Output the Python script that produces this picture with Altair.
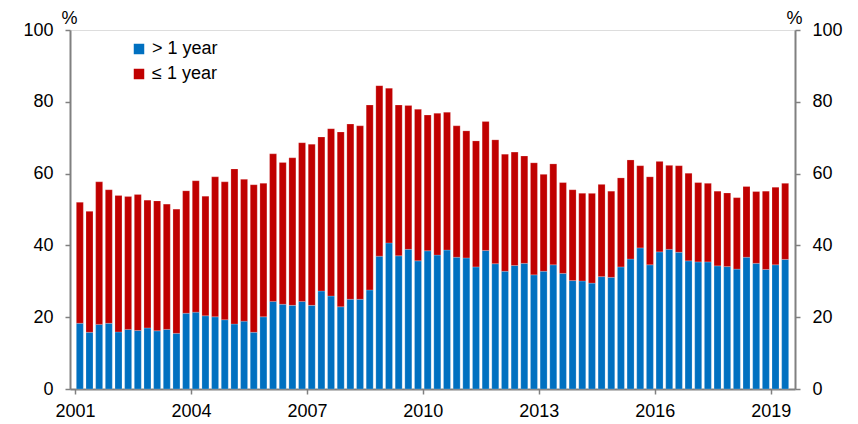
import altair as alt
import pandas as pd

# quarterly data, 2001Q1 .. 2019Q2
start_year = 2001
over_1y = [18.3, 15.8, 18.0, 18.3, 15.9, 16.6, 16.3, 17.0, 16.2, 16.6, 15.5, 21.1,
           21.4, 20.4, 20.1, 19.3, 18.1, 18.9, 15.8, 20.1, 24.4, 23.6, 23.3, 24.4,
           23.3, 27.3, 25.9, 22.9, 25.0, 25.0, 27.6, 37.0, 40.7, 37.1, 38.9, 35.7,
           38.5, 37.3, 38.7, 36.7, 36.5, 34.0, 38.6, 34.9, 32.8, 34.4, 35.0, 31.8,
           32.8, 34.6, 32.2, 30.2, 30.1, 29.5, 31.3, 31.1, 34.0, 36.2, 39.3, 34.6,
           38.2, 38.9, 38.1, 35.7, 35.4, 35.4, 34.3, 34.1, 33.4, 36.7, 35.0, 33.3,
           34.6, 36.1]
total = [52.0, 49.5, 57.7, 55.5, 53.9, 53.6, 54.2, 52.6, 52.4, 51.5, 50.1, 55.2,
         58.0, 53.7, 59.1, 57.7, 61.3, 58.4, 56.9, 57.3, 65.5, 63.1, 64.4, 68.6,
         68.2, 70.2, 72.5, 71.6, 73.8, 73.3, 79.1, 84.5, 83.8, 79.1, 79.0, 77.9,
         76.3, 76.8, 77.1, 73.3, 71.9, 69.1, 74.5, 69.4, 65.4, 66.0, 64.9, 63.0,
         59.8, 62.7, 57.5, 55.5, 54.5, 54.5, 57.0, 55.1, 58.8, 63.8, 62.2, 59.1,
         63.4, 62.3, 62.2, 60.1, 57.5, 57.3, 55.1, 54.6, 53.3, 56.4, 55.0, 55.1,
         56.2, 57.3]
series_names = ["> 1 year", "≤ 1 year"]
series_colors = ["#0070C0", "#C00000"]
tick_years = [2001, 2004, 2007, 2010, 2013, 2016, 2019]
y_ticks = [0, 20, 40, 60, 80, 100]

rows = []
for i, (b, t) in enumerate(zip(over_1y, total)):
    tpos = start_year + (i + 0.5) / 4
    rows.append({"t": tpos, "series": series_names[0], "lo": 0, "hi": b})
    rows.append({"t": tpos, "series": series_names[1], "lo": b, "hi": t})
df = pd.DataFrame(rows)

FONT = "Liberation Sans"
GREY = "#808080"
FS = 18

xenc = alt.X("t:Q",
             scale=alt.Scale(domain=[2001, 2019.5], nice=False, zero=False),
             axis=alt.Axis(values=tick_years, format="d", title=None, grid=False,
                           labelFontSize=FS, labelColor="black", labelPadding=8,
                           tickSize=5, tickColor=GREY, tickWidth=1.5,
                           domainColor=GREY, domainWidth=2, labelFlush=False))
yscale = alt.Scale(domain=[0, 100], nice=False)


def yaxis(orient):
    return alt.Axis(orient=orient, values=y_ticks, title="%", titleAngle=0,
                    titleAlign="center", titleBaseline="alphabetic",
                    titleX=-1, titleY=-7, titleFontSize=FS, titleFontWeight="normal",
                    titleColor="black", grid=False, labelFontSize=FS,
                    labelColor="black", labelPadding=12, tickSize=5,
                    tickColor=GREY, tickWidth=1.5, domainColor=GREY, domainWidth=2)


bars = alt.Chart(df).mark_bar(size=7, stroke="white", strokeWidth=0.4, strokeOpacity=0.5).encode(
    x=xenc,
    y=alt.Y("hi:Q", scale=yscale, axis=yaxis("left")),
    y2="lo:Q",
    color=alt.Color("series:N",
                    scale=alt.Scale(domain=series_names, range=series_colors),
                    legend=alt.Legend(orient="none", legendX=60, legendY=10, title=None,
                                      symbolType="square", symbolSize=110,
                                      symbolStrokeWidth=0, labelFontSize=FS,
                                      labelColor="black", labelOffset=4,
                                      rowPadding=7, padding=0)),
)

right = alt.Chart(df).mark_bar(size=7, opacity=0).encode(
    x=xenc,
    y=alt.Y("hi:Q", scale=yscale, axis=yaxis("right")),
    y2="lo:Q",
)

chart = alt.layer(bars, right).resolve_axis(y="independent").properties(
    width=725, height=359,
    autosize=alt.AutoSizeParams(type="none"),
    padding={"left": 62, "top": 22, "right": 55, "bottom": 30},
).configure_view(stroke=None).configure(font=FONT)

chart.save("out.html", embed_options={"renderer": "svg", "actions": False})
